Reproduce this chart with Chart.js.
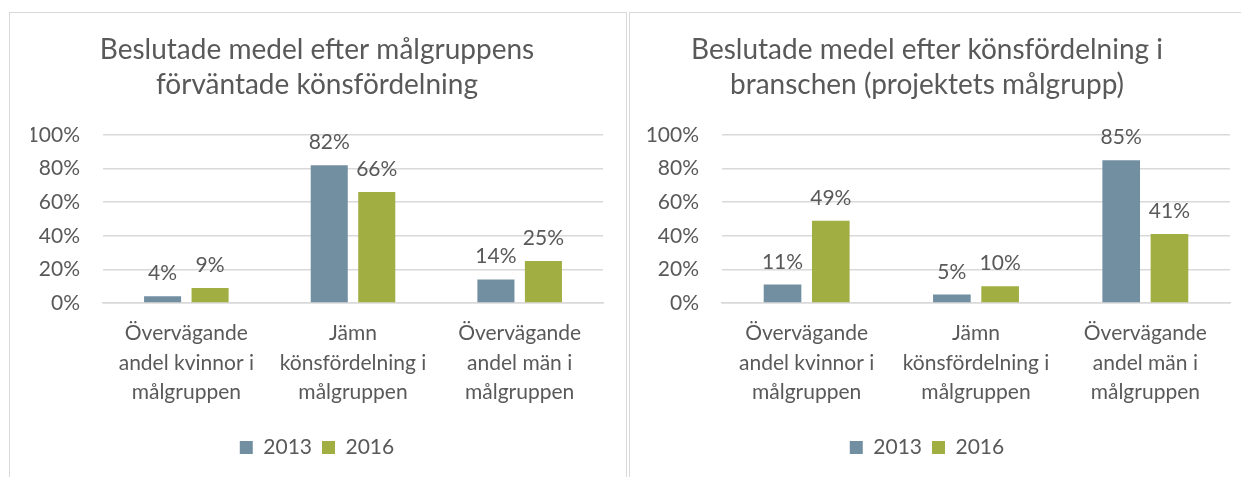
<!DOCTYPE html>
<html>
<head>
<meta charset="utf-8">
<script src="https://cdn.jsdelivr.net/npm/chart.js@4.4.1/dist/chart.umd.min.js"></script>
<style>
    body { margin: 0; background: #fff; width: 1241px; height: 477px; overflow: hidden; position: relative; }
    .panel { position: absolute; top: 12px; height: 480px; border: 1px solid #d9d9d9; box-sizing: border-box; }
    #panelLeft { left: 9px; width: 618px; }
    #panelRight { left: 629px; width: 640px; }
    .holder { position: absolute; top: 12px; height: 465px; }
    #holderLeft { left: 9px; width: 617px; }
    #holderRight { left: 613px; width: 628px; }
</style>
</head>
<body>
<div class="panel" id="panelLeft"></div>
<div class="panel" id="panelRight"></div>
<div class="holder" id="holderLeft"><canvas id="left"></canvas></div>
<div class="holder" id="holderRight"><canvas id="right"></canvas></div>
<script>
var categories = [
    ["Övervägande", "andel kvinnor i", "målgruppen"],
    ["Jämn", "könsfördelning i", "målgruppen"],
    ["Övervägande", "andel män i", "målgruppen"]
];
var seriesNames = ["2013", "2016"];
var yTicks = [0, 20, 40, 60, 80, 100];

// vänster diagram: målgruppens förväntade könsfördelning
var left2013 = [4, 82, 14];
var left2016 = [9, 66, 25];
// höger diagram: könsfördelning i branschen
var right2013 = [11, 5, 85];
var right2016 = [49, 10, 41];

var textColor = "#595959";
var fontName = "Lato, 'Open Sans', sans-serif";
var colors = ["#728fa2", "#a0ae42"];

// skriver värdet ovanför varje stapel
var valueLabels = {
    id: "valueLabels",
    afterDatasetsDraw: function (chart) {
        var ctx = chart.ctx;
        ctx.save();
        ctx.font = "21px " + fontName;
        ctx.fillStyle = textColor;
        ctx.textAlign = "center";
        ctx.textBaseline = "alphabetic";
        chart.data.datasets.forEach(function (ds, i) {
            chart.getDatasetMeta(i).data.forEach(function (bar, j) {
                ctx.fillText(ds.data[j] + "%", bar.x, bar.y - 16);
            });
        });
        ctx.restore();
    }
};

function makeChart(id, title, d2013, d2016, axisWidth, padLeft, padRight) {
    return new Chart(document.getElementById(id), {
        type: "bar",
        data: {
            labels: categories,
            datasets: [
                { label: seriesNames[0], data: d2013, backgroundColor: colors[0] },
                { label: seriesNames[1], data: d2016, backgroundColor: colors[1] }
            ]
        },
        options: {
            responsive: true,
            maintainAspectRatio: false,
            animation: false,
            categoryPercentage: 0.57,
            barPercentage: 0.78,
            layout: { padding: { left: padLeft, right: padRight, top: 0, bottom: 9 } },
            plugins: {
                title: {
                    display: true,
                    text: title,
                    color: textColor,
                    font: { family: fontName, size: 28, weight: "normal", lineHeight: 1.25 },
                    padding: { top: 20, bottom: 33 }
                },
                legend: {
                    position: "bottom",
                    labels: {
                        color: textColor,
                        boxWidth: 13,
                        boxHeight: 13,
                        padding: 10,
                        font: { family: fontName, size: 21 }
                    }
                },
                tooltip: { enabled: false }
            },
            scales: {
                x: {
                    grid: { display: false, drawTicks: false },
                    border: { color: "#d9d9d9", width: 1.5 },
                    ticks: {
                        color: textColor,
                        padding: 16,
                        maxRotation: 0,
                        autoSkip: false,
                        font: { family: fontName, size: 21, lineHeight: 1.4 }
                    },
                    afterFit: function (scale) { scale.height = 124; }
                },
                y: {
                    min: 0,
                    max: 100,
                    afterBuildTicks: function (scale) {
                        scale.ticks = yTicks.map(function (v) { return { value: v }; });
                    },
                    grid: { color: "#d9d9d9", lineWidth: 1.5, drawTicks: false },
                    border: { display: false },
                    ticks: {
                        color: textColor,
                        padding: 23,
                        font: { family: fontName, size: 21 },
                        callback: function (v) { return v + "%"; }
                    },
                    afterFit: function (scale) { scale.width = axisWidth; }
                }
            }
        },
        plugins: [valueLabels]
    });
}

var leftChart = makeChart("left",
    ["Beslutade medel efter målgruppens", "förväntade könsfördelning"],
    left2013, left2016, 72, 22, 23);
var rightChart = makeChart("right",
    ["Beslutade medel efter könsfördelning i", "branschen (projektets målgrupp)"],
    right2013, right2016, 98, 11, 11);
</script>
</body>
</html>
